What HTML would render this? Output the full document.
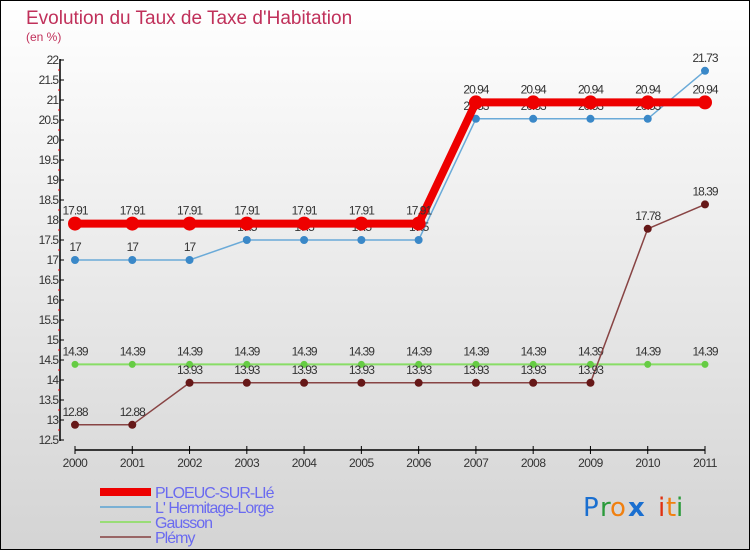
<!DOCTYPE html>
<html><head><meta charset="utf-8"><style>
body{margin:0}
svg{display:block;font-family:"Liberation Sans",sans-serif}
</style></head><body>
<svg id="c" width="750" height="550" viewBox="0 0 750 550" xmlns="http://www.w3.org/2000/svg">
<defs><linearGradient id="bg" x1="0" y1="0" x2="0" y2="1"><stop offset="0" stop-color="#ffffff"/><stop offset="1" stop-color="#d4d4d4"/></linearGradient></defs>
<rect x="0.5" y="0.5" width="749" height="549" fill="url(#bg)" stroke="#000"/>
<text x="26" y="24" font-size="19" fill="#c0305a">Evolution du Taux de Taxe d'Habitation</text>
<text x="26" y="41" font-size="12" fill="#c0305a">(en %)</text>
<g id="axes"></g><g id="series"></g><g id="legend"></g>
<g font-size="26" font-family="'DejaVu Sans',sans-serif">
<text x="583" y="516" fill="#1a6fd0">P</text><text x="600" y="516" fill="#2a9a3a">r</text><text x="610" y="516" fill="#f08010">o</text><text x="628" y="516" fill="#1a6fd0" font-weight="bold">x</text><text x="658" y="516" fill="#e03010">i</text><text x="666" y="516" fill="#f08010">t</text><text x="676" y="516" fill="#2a9a3a">i</text>
</g>
</svg>
<script>
const years=[2000,2001,2002,2003,2004,2005,2006,2007,2008,2009,2010,2011];
const ploeuc=[17.91,17.91,17.91,17.91,17.91,17.91,17.91,20.94,20.94,20.94,20.94,20.94];
const hermitage=[17,17,17,17.5,17.5,17.5,17.5,20.53,20.53,20.53,20.53,21.73];
const gausson=[14.39,14.39,14.39,14.39,14.39,14.39,14.39,14.39,14.39,14.39,14.39,14.39];
const plemy=[12.88,12.88,13.93,13.93,13.93,13.93,13.93,13.93,13.93,13.93,17.78,18.39];
const yTicks=[12.5,13,13.5,14,14.5,15,15.5,16,16.5,17,17.5,18,18.5,19,19.5,20,20.5,21,21.5,22];
const names=["PLOEUC-SUR-LIé","L' Hermitage-Lorge","Gausson","Plémy"];
const NS="http://www.w3.org/2000/svg";
const X=i=>75+i*(630/11), Y=v=>440-(v-12.5)*40;
function mk(p,t,a,txt){const e=document.createElementNS(NS,t);for(const k in a)e.setAttribute(k,a[k]);if(txt!=null)e.textContent=txt;p.appendChild(e);return e;}
const ax=document.getElementById('axes');
let e=mk(ax,'line',{x1:60,y1:59,x2:60,y2:441,stroke:'#000','stroke-width':1.5});


e=mk(ax,'line',{x1:75,y1:450,x2:705,y2:450,stroke:'#000','stroke-width':1.5});


yTicks.forEach((v,k)=>{
 const y=Y(v);
 mk(ax,'line',{x1:60,y1:y,x2:64,y2:y,stroke:'#000'});
 if(k>0) mk(ax,'line',{x1:58,y1:y+10,x2:60,y2:y+10,stroke:'#e00'});
 const t=mk(ax,'text',{x:58,y:y+4,'font-size':12,'text-anchor':'end',fill:'#333','letter-spacing':'-1'},String(v));
 
 
});
years.forEach((yr,i)=>{
 mk(ax,'line',{x1:X(i),y1:446,x2:X(i),y2:454,stroke:'#000'});
 const t=mk(ax,'text',{x:X(i),y:467,'font-size':12,'text-anchor':'middle',fill:'#333','letter-spacing':'-0.5'},String(yr));
 
 
});
const sg=document.getElementById('series');
const defs=[[gausson,'#88dd66','#66cc44',2,3.5,'gausson'],[plemy,'#884444','#661818',1.5,4,'plemy'],[hermitage,'#6aaad8','#3a88c8',1.5,4,'hermitage'],[ploeuc,'#ee0000','#ee0000',8,7,'ploeuc']];
defs.forEach(([d,lc,pc,w,r,n])=>{
 const g=mk(sg,'g',{});
 
 
 mk(g,'polyline',{points:d.map((v,i)=>X(i)+','+Y(v)).join(' '),fill:'none',stroke:lc,'stroke-width':w});
 d.forEach((v,i)=>{
  const c=mk(g,'circle',{cx:X(i),cy:Y(v),r:r,fill:pc});
  
  
  const t=mk(g,'text',{x:X(i),y:Y(v)-9,'font-size':12,'text-anchor':'middle',fill:'#333','letter-spacing':'-1'},String(v));
  
  
 });
});
const lg=document.getElementById('legend');
const lcol=[['#ee0000',8],['#7ab0d4',2],['#99dd77',2],['#996666',2]];
names.forEach((n,i)=>{
 const y=492+i*15;
 const g=mk(lg,'g',{});
 
 
 mk(g,'line',{x1:100,y1:y,x2:151,y2:y,stroke:lcol[i][0],'stroke-width':lcol[i][1]});
 mk(g,'text',{x:155,y:y+6,'font-size':16,fill:'#6a6af0','letter-spacing':'-1'},n);
});
</script>
</body></html>
